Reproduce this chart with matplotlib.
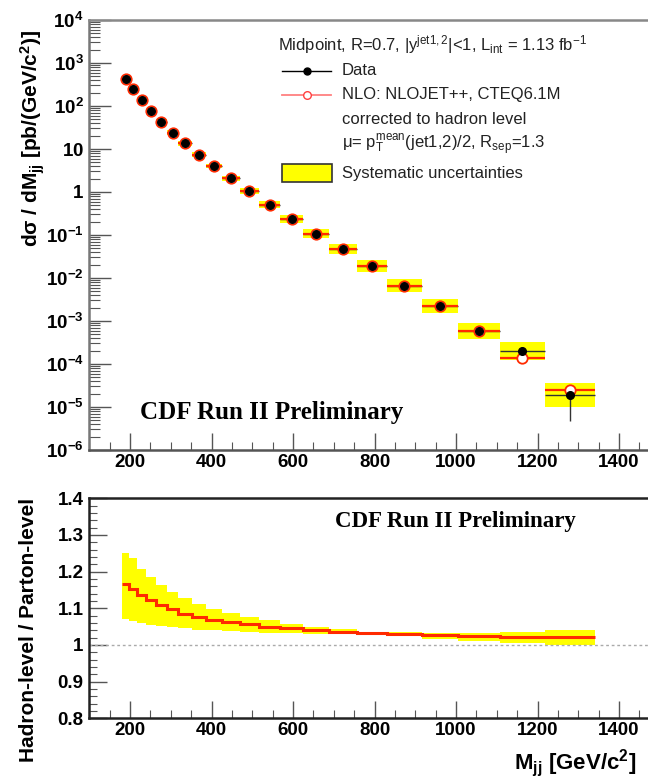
import numpy as np
import matplotlib
matplotlib.use('Agg')
from matplotlib import pyplot as plt
from matplotlib.lines import Line2D
from matplotlib.patches import Rectangle
from matplotlib.ticker import MultipleLocator, LogLocator, NullFormatter

plt.rcParams['font.family'] = ['Liberation Sans', 'DejaVu Sans']
plt.rcParams['mathtext.fontset'] = 'custom'
plt.rcParams['mathtext.rm'] = 'Liberation Sans'
plt.rcParams['mathtext.it'] = 'Liberation Sans:italic'
plt.rcParams['mathtext.bf'] = 'Liberation Sans:bold'

# dijet mass bins (GeV/c^2)
edges = [180, 198, 218, 240, 264, 290, 319, 351, 386, 425, 469,
         517, 568, 625, 689, 757, 831, 916, 1006, 1108, 1218, 1341]

# cross section, pb/(GeV/c^2)
data_xs = [420, 250, 140, 76, 43, 24, 13.5, 7.4, 4.0, 2.1, 1.05,
           0.51, 0.24, 0.107, 0.047, 0.019, 0.0066, 0.0022, 0.00060, 2.0e-4, 1.9e-5]
nlo_xs = [415, 248, 139, 76, 43, 24, 13.5, 7.4, 4.0, 2.1, 1.05,
          0.51, 0.24, 0.107, 0.047, 0.019, 0.0066, 0.0022, 0.00060, 1.35e-4, 2.5e-5]
# statistical errors (relative)
stat_up = [0.01, 0.01, 0.01, 0.01, 0.01, 0.01, 0.01, 0.01, 0.01, 0.01, 0.01,
           0.02, 0.02, 0.03, 0.04, 0.06, 0.08, 0.10, 0.15, 0.25, 0.55]
stat_dn = [0.01, 0.01, 0.01, 0.01, 0.01, 0.01, 0.01, 0.01, 0.01, 0.01, 0.01,
           0.02, 0.02, 0.03, 0.04, 0.06, 0.08, 0.10, 0.15, 0.25, 0.75]
# systematic uncertainties (relative)
sys_up = [0.12, 0.12, 0.12, 0.12, 0.13, 0.13, 0.13, 0.14, 0.14, 0.15, 0.16,
          0.20, 0.23, 0.27, 0.31, 0.37, 0.42, 0.48, 0.53, 0.65, 0.89]
sys_dn = [0.11, 0.11, 0.11, 0.11, 0.11, 0.11, 0.12, 0.12, 0.12, 0.13, 0.14,
          0.17, 0.19, 0.21, 0.24, 0.27, 0.30, 0.32, 0.35, 0.39, 0.47]

# hadronization correction, hadron-level / parton-level
corr = [1.165, 1.153, 1.135, 1.122, 1.108, 1.097, 1.085, 1.077, 1.068, 1.062, 1.056,
        1.050, 1.045, 1.040, 1.036, 1.033, 1.030, 1.027, 1.025, 1.023, 1.022]
corr_up = [1.250, 1.236, 1.207, 1.185, 1.163, 1.145, 1.127, 1.113, 1.098, 1.088, 1.076,
           1.068, 1.058, 1.050, 1.043, 1.036, 1.034, 1.032, 1.032, 1.036, 1.042]
corr_dn = [1.072, 1.066, 1.060, 1.055, 1.052, 1.048, 1.045, 1.042, 1.040, 1.037, 1.035,
           1.033, 1.032, 1.030, 1.030, 1.030, 1.025, 1.016, 1.011, 1.005, 1.000]

ylog_ticks = [1e4, 1e3, 1e2, 10, 1, 1e-1, 1e-2, 1e-3, 1e-4, 1e-5, 1e-6]
ylog_labels = [r'$\mathbf{10^{4}}$', r'$\mathbf{10^{3}}$', r'$\mathbf{10^{2}}$', r'$\mathbf{10}$',
               r'$\mathbf{1}$', r'$\mathbf{10^{-1}}$', r'$\mathbf{10^{-2}}$', r'$\mathbf{10^{-3}}$',
               r'$\mathbf{10^{-4}}$', r'$\mathbf{10^{-5}}$', r'$\mathbf{10^{-6}}$']
x_ticks = [200, 400, 600, 800, 1000, 1200, 1400]

edges = np.array(edges)
lo_e = edges[:-1]
wid = np.diff(edges)
cen = lo_e + wid / 2
data_xs = np.array(data_xs)
nlo_xs = np.array(nlo_xs)

W, H = 648, 783
fig = plt.figure(figsize=(W / 100, H / 100), dpi=100)


def fx(x):
    return x / W


def fy(y):
    return 1 - y / H


ax = fig.add_axes([fx(89.25), fy(450), fx(562.35), 430 / H])
ax2 = fig.add_axes([fx(89.25), fy(718.3), fx(562.35), 220 / H])

# ---- top panel
sys_lo = data_xs * (1 - np.array(sys_dn))
sys_hi = data_xs * (1 + np.array(sys_up))
ax.bar(lo_e, sys_hi - sys_lo, bottom=sys_lo, width=wid, align='edge',
       color='#ffff00', linewidth=0, zorder=1)
ax.errorbar(cen, data_xs, xerr=wid / 2,
            yerr=[data_xs * np.array(stat_dn), data_xs * np.array(stat_up)],
            fmt='none', ecolor='#333333', elinewidth=1.0, zorder=2)
ax.errorbar(cen, nlo_xs, xerr=wid / 2, fmt='o', color='#ff2a00', ms=7.5,
            mfc='white', mec='#ff2a00', mew=1.3, elinewidth=1.6, zorder=3)
ax.plot(cen, data_xs, 'o', color='black', ms=5.5, zorder=4)

ax.set_yscale('log')
ax.set_ylim(1e-6, 1e4)
ax.set_xlim(100, 1480)
ax.set_yticks(ylog_ticks, labels=ylog_labels)
ax.yaxis.set_minor_locator(LogLocator(base=10, subs=np.arange(2, 10), numticks=30))
ax.yaxis.set_minor_formatter(NullFormatter())
ax.set_xticks(x_ticks)
ax.xaxis.set_minor_locator(MultipleLocator(50))
ax.tick_params(axis='both', which='both', direction='in', top=False, right=False,
               labelsize=13.5, color='#555555')
ax.tick_params(axis='y', which='major', length=16, width=1.0, pad=4)
ax.tick_params(axis='y', which='minor', length=8, width=0.8)
ax.tick_params(axis='x', which='major', length=12, width=1.0, pad=3)
ax.tick_params(axis='x', which='minor', length=6, width=0.8)
for lab in ax.get_xticklabels() + ax.get_yticklabels():
    lab.set_fontweight('bold')
ax.spines['top'].set_color('#888888')
ax.spines['left'].set_color('#777777')
ax.spines['bottom'].set_color('#555555')
for s in ['top', 'left', 'bottom']:
    ax.spines[s].set_linewidth(1.8)
ax.spines['right'].set_visible(False)

ax.text(fx(140), fy(413), 'CDF Run II Preliminary', transform=fig.transFigure,
        family='Liberation Serif', fontweight='bold', fontsize=18, va='center', ha='left')

# legend drawn by hand
fs = 12
tc = '#222222'
fig.text(fx(278), fy(45), r'Midpoint, R=0.7, $\mathrm{|y^{jet1,2}|}$<1, L$_{\mathrm{int}}$ = 1.13 fb$^{\mathrm{-1}}$',
         fontsize=fs, color=tc, va='center', ha='left')
fig.add_artist(Line2D([fx(282), fx(331)], [fy(70.7), fy(70.7)], color='black', lw=1,
                      transform=fig.transFigure))
fig.add_artist(Line2D([fx(306.7)], [fy(70.7)], marker='o', color='black', ms=5,
                      transform=fig.transFigure))
fig.text(fx(341.7), fy(70.7), 'Data', fontsize=fs, color=tc, va='center', ha='left')
fig.add_artist(Line2D([fx(282), fx(331)], [fy(95), fy(95)], color='#ff8080', lw=1.3,
                      transform=fig.transFigure))
fig.add_artist(Line2D([fx(306.7)], [fy(95)], marker='o', color='#ff4040', mfc='white', ms=5.5,
                      transform=fig.transFigure))
fig.text(fx(341.7), fy(95), 'NLO: NLOJET++, CTEQ6.1M', fontsize=fs, color=tc, va='center', ha='left')
fig.text(fx(341.7), fy(119.5), 'corrected to hadron level', fontsize=fs, color=tc, va='center', ha='left')
fig.text(fx(341.7), fy(145), r'$\mathrm{\mu}$= p$_{\mathrm{T}}^{\mathrm{mean}}$(jet1,2)/2, R$_{\mathrm{sep}}$=1.3',
         fontsize=fs, color=tc, va='center', ha='left')
fig.add_artist(Rectangle((fx(282), fy(181.7)), fx(50), 17.7 / H, facecolor='#ffff00',
                         edgecolor='#333333', lw=1.2, transform=fig.transFigure))
fig.text(fx(341.7), fy(173.5), 'Systematic uncertainties', fontsize=fs, color=tc, va='center', ha='left')

fig.text(fx(33), fy(30), r'$\mathbf{d\sigma\ /\ dM_{jj}\ [pb/(GeV/c^{2})]}$', rotation=90,
         fontsize=15, ha='center', va='top')

# ---- bottom panel
corr_lo = np.array(corr_dn)
corr_hi = np.array(corr_up)
ax2.bar(lo_e, corr_hi - corr_lo, bottom=corr_lo, width=wid, align='edge',
        color='#ffff00', linewidth=0, zorder=1)
ax2.stairs(corr, edges, baseline=None, color='#ff2a00', lw=2.2, zorder=3)
ax2.axhline(1.0, color='#aaaaaa', lw=1, ls=(0, (2, 2)), zorder=2)
ax2.set_xlim(100, 1480)
ax2.set_ylim(0.8, 1.4)
ax2.set_xticks(x_ticks)
ax2.xaxis.set_minor_locator(MultipleLocator(50))
ax2.yaxis.set_major_locator(MultipleLocator(0.1))
ax2.yaxis.set_minor_locator(MultipleLocator(0.02))
ax2.yaxis.set_major_formatter(matplotlib.ticker.FuncFormatter(
    lambda v, p: '1' if abs(v - 1) < 1e-6 else f'{v:.1f}'))
ax2.tick_params(axis='both', which='both', direction='in', top=False, right=False,
                labelsize=13.5, color='#555555')
ax2.tick_params(axis='y', which='major', length=13, width=1.0, pad=4)
ax2.tick_params(axis='y', which='minor', length=6, width=0.8)
ax2.tick_params(axis='x', which='major', length=12, width=1.0, pad=3)
ax2.tick_params(axis='x', which='minor', length=6, width=0.8)
for lab in ax2.get_xticklabels() + ax2.get_yticklabels():
    lab.set_fontweight('bold')
for s in ['top', 'left', 'bottom']:
    ax2.spines[s].set_linewidth(1.8)
    ax2.spines[s].set_color('#222222')
ax2.spines['right'].set_visible(False)

ax2.text(fx(335), fy(521.7), 'CDF Run II Preliminary', transform=fig.transFigure,
         family='Liberation Serif', fontweight='bold', fontsize=16.5, va='center', ha='left')

fig.text(fx(29), fy(498), 'Hadron-level / Parton-level', rotation=90, fontsize=15,
         fontweight='bold', ha='center', va='top')
fig.text(fx(514), fy(763), r'$\mathbf{M_{jj}\ [GeV/c^{2}]}$', fontsize=16, ha='left', va='center')

fig.savefig('out.png', dpi=100)
